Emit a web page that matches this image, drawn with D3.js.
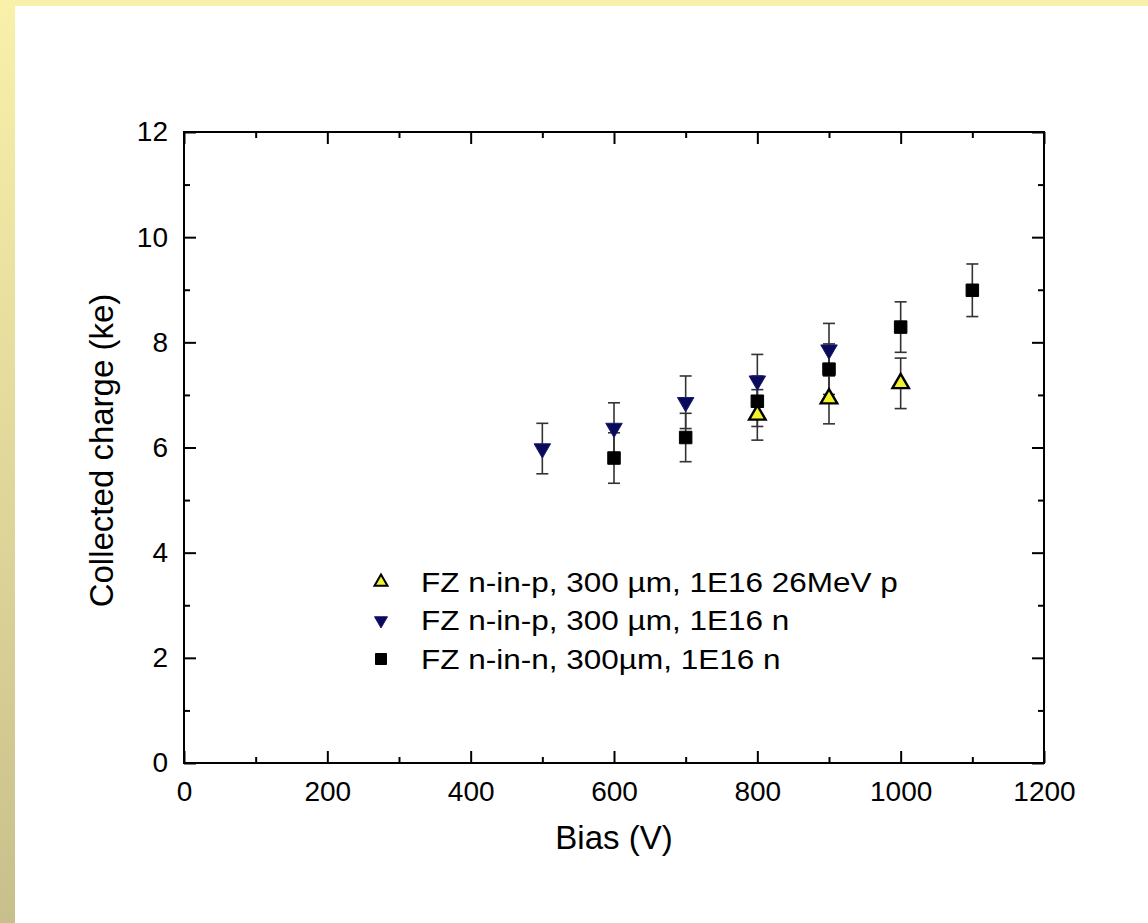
<!DOCTYPE html>
<html>
<head>
<meta charset="utf-8">
<script src="https://cdn.jsdelivr.net/npm/d3@7"></script>
<style>
  body { margin: 0; background: #fff; }
  text { font-family: "Liberation Sans", Arial, sans-serif; }
</style>
</head>
<body>
<div id="chart"></div>
<script>
// data
var biasP26 = [800, 900, 1000];
var chargeP26 = [6.62, 6.93, 7.22];
var errP26 = [0.48, 0.48, 0.48];

var biasPn = [500, 600, 700, 800, 900];
var chargePn = [5.98, 6.37, 6.86, 7.27, 7.86];
var errPn = [0.48, 0.48, 0.5, 0.5, 0.5];

var biasNn = [600, 700, 800, 900, 1000, 1100];
var chargeNn = [5.8, 6.19, 6.88, 7.49, 8.29, 8.99];
var errNn = [0.48, 0.46, 0.48, 0.48, 0.48, 0.5];

var xTicks = [0, 200, 400, 600, 800, 1000, 1200];
var yTicks = [0, 2, 4, 6, 8, 10, 12];
var legendLabels = [
  "FZ n-in-p, 300 \u00b5m, 1E16 26MeV p",
  "FZ n-in-p, 300 \u00b5m, 1E16 n",
  "FZ n-in-n, 300\u00b5m, 1E16 n"
];

var W = 1148, H = 923;
var margin = {top: 132, right: 104, bottom: 160, left: 184},
    width = W - margin.left - margin.right,
    height = H - margin.top - margin.bottom;

var root = d3.select("#chart").append("svg")
    .attr("width", W)
    .attr("height", H);

// slide background: yellow strip on top, gradient strip on left
var defs = root.append("defs");
var grad = defs.append("linearGradient")
    .attr("id", "leftgrad")
    .attr("x1", 0).attr("y1", 0).attr("x2", 0).attr("y2", 1);
grad.append("stop").attr("offset", "0%").attr("stop-color", "#f9f0aa");
grad.append("stop").attr("offset", "100%").attr("stop-color", "#c8c08b");

root.append("rect").attr("x", 0).attr("y", 0).attr("width", W).attr("height", 6)
    .attr("fill", "#f9f0aa");
root.append("rect").attr("x", 0).attr("y", 0).attr("width", 15).attr("height", H)
    .attr("fill", "url(#leftgrad)");

var svg = root.append("g")
    .attr("transform", "translate(" + margin.left + "," + margin.top + ")");

var x = d3.scaleLinear().domain([0, 1200]).range([0, width]);
var y = d3.scaleLinear().domain([0, 12]).range([height, 0]);

var xMinor = d3.range(100, 1200, 200);
var yMinor = d3.range(1, 12, 2);

// ticks, all pointing inward, on all four sides
function tickAxis(axisFn, scale, vals, size, transform, labels) {
  var g = svg.append("g")
    .attr("transform", transform)
    .call(axisFn(scale).tickValues(vals).tickSize(size).tickSizeOuter(0)
      .tickFormat(labels ? d3.format("d") : ""));
  g.select(".domain").remove();
  g.selectAll(".tick line").attr("stroke", "#000").attr("stroke-width", 2);
  return g;
}

var xb = tickAxis(d3.axisBottom, x, xTicks, -12, "translate(0," + height + ")", true);
xb.selectAll("text").attr("y", 18).attr("dy", "0.71em")
  .style("font-size", "28px").attr("fill", "#000");
tickAxis(d3.axisBottom, x, xMinor, -6, "translate(0," + height + ")", false);
tickAxis(d3.axisTop, x, xTicks, -12, "translate(0,0)", false);
tickAxis(d3.axisTop, x, xMinor, -6, "translate(0,0)", false);

var yl = tickAxis(d3.axisLeft, y, yTicks, -12, "translate(0,0)", true);
yl.selectAll("text").attr("x", -16)
  .style("font-size", "28px").attr("fill", "#000");
tickAxis(d3.axisLeft, y, yMinor, -6, "translate(0,0)", false);
tickAxis(d3.axisRight, y, yTicks, -12, "translate(" + width + ",0)", false);
tickAxis(d3.axisRight, y, yMinor, -6, "translate(" + width + ",0)", false);

// frame
svg.append("rect")
    .attr("width", width).attr("height", height)
    .attr("fill", "none").attr("stroke", "#000").attr("stroke-width", 2);

// axis titles
svg.append("text")
    .attr("x", width / 2).attr("y", height + 86)
    .attr("text-anchor", "middle")
    .style("font-size", "33px")
    .text("Bias (V)");

svg.append("text")
    .attr("transform", "translate(-83," + (height / 2 + 3) + ")rotate(-90)")
    .attr("text-anchor", "middle")
    .attr("dy", "0.35em")
    .style("font-size", "33px")
    .text("Collected charge (ke)");

// series
var series = [
  {x: biasPn, y: chargePn, e: errPn, shape: "down", fill: "#0a0a5c", stroke: "#1a1a6e"},
  {x: biasNn, y: chargeNn, e: errNn, shape: "square", fill: "#000", stroke: "#000"},
  {x: biasP26, y: chargeP26, e: errP26, shape: "up", fill: "#f2f22e", stroke: "#000"}
];

function markerPath(shape, s) {
  if (shape === "square") return d3.symbol().type(d3.symbolSquare).size(s * s)();
  var h = s * 0.866;
  if (shape === "up") return "M0," + (-h * 2 / 3) + "L" + (s / 2) + "," + (h / 3) + "L" + (-s / 2) + "," + (h / 3) + "Z";
  return "M0," + (h * 2 / 3) + "L" + (s / 2) + "," + (-h / 3) + "L" + (-s / 2) + "," + (-h / 3) + "Z";
}

series.forEach(function(s) {
  var pts = s.x.map(function(v, i) { return {x: v, y: s.y[i], e: s.e[i]}; });
  var eb = svg.append("g").selectAll("g").data(pts).enter().append("g")
    .attr("stroke", "#333").attr("stroke-width", 1.6);
  eb.append("line")
    .attr("x1", function(d) { return x(d.x); }).attr("x2", function(d) { return x(d.x); })
    .attr("y1", function(d) { return y(d.y - d.e); }).attr("y2", function(d) { return y(d.y + d.e); });
  eb.append("line")
    .attr("x1", function(d) { return x(d.x) - 6; }).attr("x2", function(d) { return x(d.x) + 6; })
    .attr("y1", function(d) { return y(d.y + d.e); }).attr("y2", function(d) { return y(d.y + d.e); });
  eb.append("line")
    .attr("x1", function(d) { return x(d.x) - 6; }).attr("x2", function(d) { return x(d.x) + 6; })
    .attr("y1", function(d) { return y(d.y - d.e); }).attr("y2", function(d) { return y(d.y - d.e); });
});

series.forEach(function(s) {
  var pts = s.x.map(function(v, i) { return {x: v, y: s.y[i]}; });
  svg.append("g").selectAll("path").data(pts).enter().append("path")
    .attr("transform", function(d) { return "translate(" + x(d.x) + "," + y(d.y) + ")"; })
    .attr("d", markerPath(s.shape, s.shape === "square" ? 12.5 : 16.5))
    .attr("fill", s.fill)
    .attr("stroke", s.stroke)
    .attr("stroke-width", s.shape === "up" ? 2.4 : 1);
});

// legend
var legendShapes = [series[2], series[0], series[1]];
var lg = svg.append("g").attr("transform", "translate(" + (381 - margin.left) + "," + (582 - margin.top) + ")");
legendLabels.forEach(function(t, i) {
  var s = legendShapes[i];
  lg.append("path")
    .attr("transform", "translate(0," + (i * 38.5) + ")")
    .attr("d", markerPath(s.shape, s.shape === "square" ? 11 : 13))
    .attr("fill", s.fill).attr("stroke", s.stroke)
    .attr("stroke-width", s.shape === "up" ? 2 : 1);
  lg.append("text")
    .attr("transform", "translate(40," + (i * 38.5) + ")scale(1.125,1)")
    .attr("dy", "0.35em")
    .style("font-size", "28px")
    .text(t);
});
</script>
</body>
</html>
